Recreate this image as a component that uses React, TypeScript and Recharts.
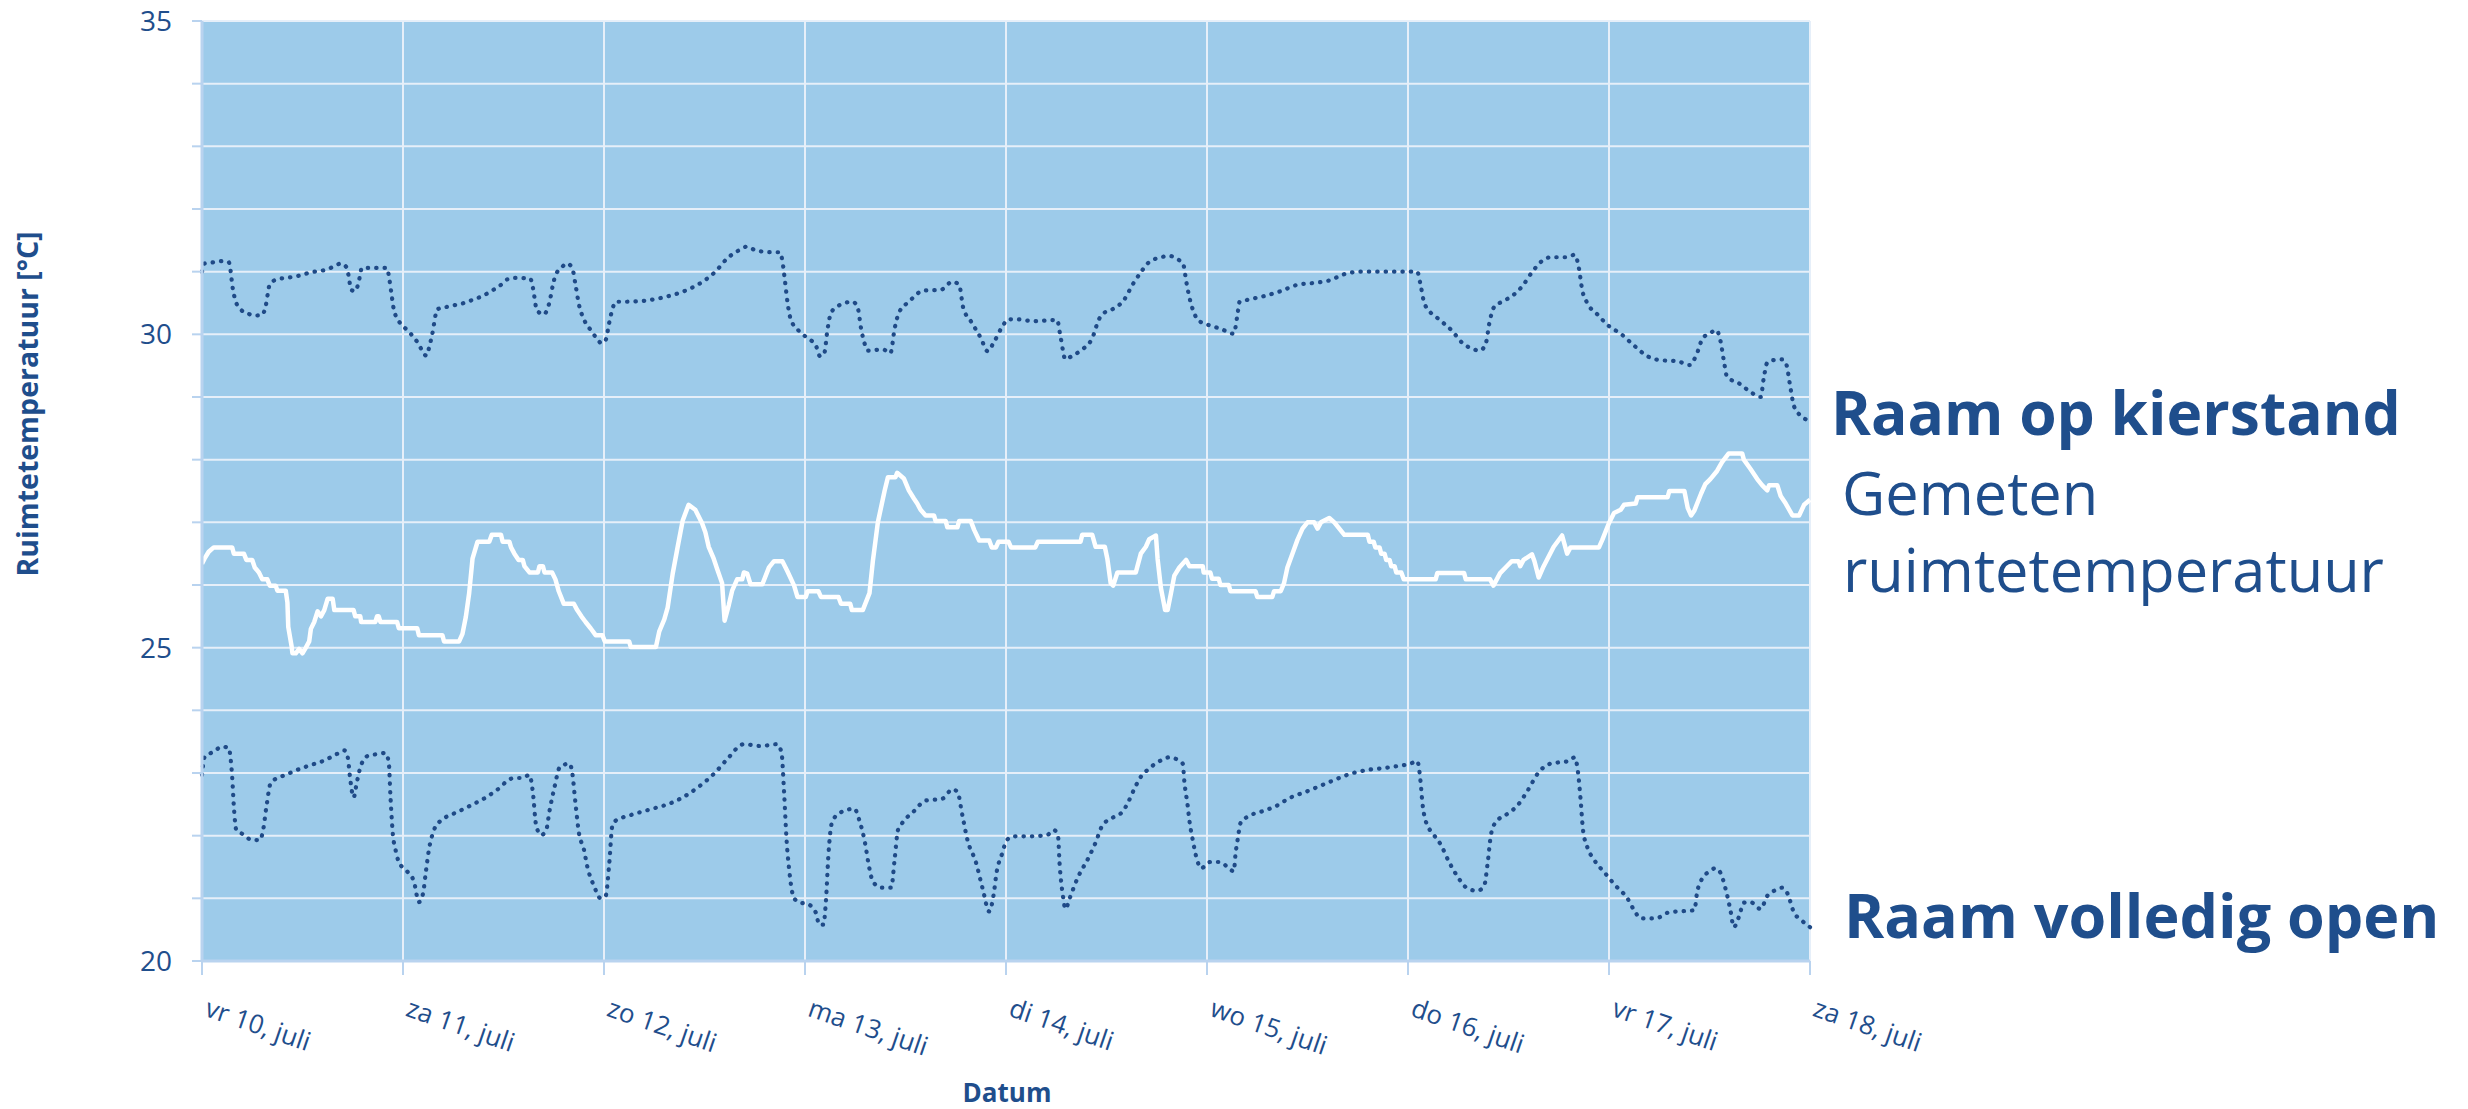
import React from "react";
import { CartesianGrid, Line, LineChart, XAxis, YAxis } from "recharts";

// hours since vr 10 juli 00:00, temperature in °C
const dayLabels = [
  "vr 10, juli",
  "za 11, juli",
  "zo 12, juli",
  "ma 13, juli",
  "di 14, juli",
  "wo 15, juli",
  "do 16, juli",
  "vr 17, juli",
  "za 18, juli",
];
const dayTicks = [0, 24, 48, 72, 96, 120, 144, 168, 192];
const tempTicks = [20, 21, 22, 23, 24, 25, 26, 27, 28, 29, 30, 31, 32, 33, 34, 35];

const kierstand: Array<[number, number]> = [
  [0, 31.0], [0.3, 31.13], [1.4, 31.15], [2.4, 31.17], [3.2, 31.15], [3.4, 31.03], [3.6, 30.8], [4.1, 30.5],
  [4.6, 30.4], [5.5, 30.33], [6.4, 30.3], [7.2, 30.31], [7.6, 30.45], [8.1, 30.8], [9.0, 30.88], [10, 30.9],
  [11, 30.92], [12, 30.95], [13, 30.99], [14, 31.01], [14.8, 31.03], [15.7, 31.08], [16.6, 31.13], [17.2, 31.08],
  [17.5, 30.94], [17.8, 30.71], [18.3, 30.69], [18.7, 30.83], [19.1, 31.06], [20.1, 31.06], [21.1, 31.06],
  [22.1, 31.06], [22.3, 30.94], [22.6, 30.67], [22.9, 30.4], [23.7, 30.17], [24.5, 30.07], [25.7, 29.88],
  [26.8, 29.66], [27.1, 29.78], [27.5, 30.01], [28.1, 30.4], [29.3, 30.44], [30.3, 30.47], [31.3, 30.5],
  [32.3, 30.55], [33.3, 30.6], [34.9, 30.72], [35.7, 30.79], [36.5, 30.88], [37.3, 30.9], [39.2, 30.89],
  [39.5, 30.75], [40, 30.38], [40.8, 30.32], [41.5, 30.52], [41.9, 30.79], [42.2, 30.94], [42.9, 31.06],
  [43.6, 31.13], [44.2, 31.06], [44.6, 30.79], [45, 30.48], [45.6, 30.24], [46.4, 30.07], [47, 29.96],
  [47.7, 29.86], [48.2, 29.91], [48.6, 30.17], [49, 30.4], [49.4, 30.52], [50.4, 30.52], [52.4, 30.53],
  [54.4, 30.57], [55.4, 30.6], [57.2, 30.67], [58.1, 30.72], [59.9, 30.85], [61.3, 31.0], [62.7, 31.21],
  [64.1, 31.34], [65.1, 31.4], [66.1, 31.34], [68, 31.31], [69, 31.31], [69.3, 31.17], [69.6, 30.86],
  [69.9, 30.52], [70.3, 30.24], [71.3, 30.05], [72.3, 29.94], [73.3, 29.82], [73.8, 29.65], [74.3, 29.7],
  [74.7, 30.09], [75.1, 30.34], [75.9, 30.45], [77.7, 30.52], [78.3, 30.42], [78.7, 30.09], [79.1, 29.86],
  [79.5, 29.74], [81.3, 29.76], [82.2, 29.7], [82.7, 30.09], [83.2, 30.34], [84.4, 30.52], [86.2, 30.7],
  [88.2, 30.71], [89.6, 30.84], [90.4, 30.79], [90.9, 30.42], [91.8, 30.21], [93, 29.94], [93.8, 29.73],
  [94.5, 29.86], [95.5, 30.11], [96.3, 30.24], [97.3, 30.24], [99.3, 30.21], [102.1, 30.23], [102.5, 29.97],
  [103.1, 29.6], [103.7, 29.64], [104.9, 29.74], [106.3, 29.94], [107.1, 30.24], [107.7, 30.34], [108.7, 30.4],
  [110.1, 30.55], [111.1, 30.79], [112.1, 30.99], [112.9, 31.13], [114.5, 31.23], [115.5, 31.25], [116.5, 31.2],
  [117.2, 31.1], [117.5, 30.86], [117.9, 30.59], [118.4, 30.36], [119, 30.22], [120.4, 30.14], [121.6, 30.09],
  [123.2, 30.01], [123.6, 30.28], [123.9, 30.52], [124.8, 30.55], [126.8, 30.61], [128.8, 30.69], [130.8, 30.79],
  [132.8, 30.82], [134.6, 30.86], [136.4, 30.96], [138.4, 31.0], [140.4, 31.0], [144.1, 31.0], [145.1, 31.0],
  [145.5, 30.79], [145.9, 30.52], [146.5, 30.38], [147.7, 30.24], [149.3, 30.05], [150.5, 29.86], [151.5, 29.78],
  [152.6, 29.74], [153.3, 29.86], [153.7, 30.17], [154.3, 30.44], [155.4, 30.53], [156.6, 30.63], [157.6, 30.76],
  [158.8, 30.99], [160, 31.17], [161, 31.23], [163, 31.23], [163.9, 31.27], [164.4, 31.06], [164.8, 30.71],
  [165.4, 30.5], [166.6, 30.32], [168, 30.13], [169.4, 30.01], [171, 29.82], [172.6, 29.65], [174, 29.59],
  [176.2, 29.57], [177.6, 29.51], [178.4, 29.66], [179.2, 29.94], [180, 30.01], [180.8, 30.07], [181.3, 29.9],
  [181.7, 29.59], [182.1, 29.32], [183.5, 29.22], [184.9, 29.08], [186.1, 29.0], [186.5, 29.32], [186.9, 29.55],
  [187.7, 29.59], [188.7, 29.6], [189.2, 29.51], [189.6, 29.2], [190.1, 28.85], [190.9, 28.7], [192, 28.62],
];

const gemeten: Array<[number, number]> = [
  [0, 26.34], [0.3, 26.42], [0.8, 26.53], [1.4, 26.6], [3.6, 26.6], [3.8, 26.5], [5, 26.5], [5.3, 26.4],
  [6, 26.4], [6.3, 26.28], [6.8, 26.2], [7.2, 26.09], [7.8, 26.09], [8.1, 25.99], [8.8, 25.99], [9.0, 25.91],
  [10, 25.91], [10.2, 25.72], [10.3, 25.33], [10.7, 25.02], [10.8, 24.91], [11.2, 24.91], [11.6, 24.98],
  [12, 24.91], [12.4, 25.0], [12.8, 25.1], [13, 25.3], [13.4, 25.41], [13.8, 25.58], [14.2, 25.5], [14.6, 25.6],
  [15, 25.78], [15.6, 25.78], [15.8, 25.6], [18.1, 25.6], [18.3, 25.5], [18.9, 25.5], [19.0, 25.41],
  [20.7, 25.41], [20.9, 25.5], [21.1, 25.5], [21.3, 25.41], [23.3, 25.41], [23.5, 25.31], [25.7, 25.31],
  [25.9, 25.2], [28.7, 25.2], [28.9, 25.1], [30.7, 25.1], [31.1, 25.22], [31.5, 25.49], [31.9, 25.87],
  [32.3, 26.42], [32.9, 26.69], [34.3, 26.69], [34.6, 26.8], [35.7, 26.8], [35.9, 26.69], [36.7, 26.69],
  [36.9, 26.6], [37.3, 26.5], [37.8, 26.4], [38.3, 26.4], [38.5, 26.3], [39.1, 26.2], [40.1, 26.2], [40.3, 26.3],
  [40.7, 26.3], [40.9, 26.2], [41.8, 26.2], [42.2, 26.09], [42.6, 25.9], [43.2, 25.7], [44.4, 25.7], [44.8, 25.6],
  [45.3, 25.5], [45.8, 25.41], [46.4, 25.31], [47, 25.2], [47.8, 25.2], [48.1, 25.1], [51, 25.1], [51.2, 25.01],
  [54.2, 25.01], [54.6, 25.26], [55.2, 25.45], [55.6, 25.64], [56.2, 26.18], [56.8, 26.61], [57.4, 27.03],
  [58.1, 27.28], [58.9, 27.2], [59.7, 26.99], [60.1, 26.84], [60.5, 26.61], [61.1, 26.42], [61.5, 26.26],
  [62.1, 26.03], [62.4, 25.43], [62.9, 25.68], [63.3, 25.91], [63.9, 26.09], [64.5, 26.09], [64.7, 26.2],
  [65.1, 26.18], [65.5, 26.01], [66.9, 26.01], [67.7, 26.28], [68.3, 26.38], [69.3, 26.38], [69.9, 26.22],
  [70.7, 25.99], [71.1, 25.81], [72.1, 25.81], [72.3, 25.9], [73.6, 25.9], [73.9, 25.81], [76, 25.81],
  [76.3, 25.7], [77.4, 25.7], [77.6, 25.6], [78.9, 25.6], [79.7, 25.87], [80.1, 26.38], [80.7, 27.0],
  [81.5, 27.5], [81.9, 27.72], [82.8, 27.72], [83, 27.79], [83.8, 27.7], [84.4, 27.51], [85, 27.38], [85.4, 27.3],
  [85.8, 27.2], [86.4, 27.11], [87.4, 27.11], [87.6, 27.02], [88.8, 27.02], [89, 26.92], [90.2, 26.92],
  [90.4, 27.02], [91.8, 27.02], [92.2, 26.88], [92.8, 26.71], [94, 26.71], [94.3, 26.6], [94.8, 26.6],
  [95.1, 26.69], [96.3, 26.69], [96.6, 26.6], [99.5, 26.6], [99.8, 26.69], [104.9, 26.69], [105.1, 26.8],
  [106.3, 26.8], [106.7, 26.61], [107.8, 26.61], [108.1, 26.42], [108.5, 26.03], [108.8, 25.99], [109.3, 26.2],
  [111.5, 26.2], [111.7, 26.3], [112.1, 26.5], [112.7, 26.61], [113.1, 26.73], [113.9, 26.79], [114.1, 26.42],
  [114.5, 25.95], [115, 25.6], [115.3, 25.6], [115.7, 25.87], [116.1, 26.15], [116.7, 26.28], [117.5, 26.4],
  [117.9, 26.3], [119.5, 26.3], [119.6, 26.2], [120.4, 26.2], [120.6, 26.1], [121.4, 26.1], [121.6, 26.0],
  [122.6, 26.0], [122.8, 25.9], [125.8, 25.9], [126, 25.81], [127.8, 25.81], [128, 25.9], [128.8, 25.9],
  [129.2, 26.03], [129.6, 26.28], [130.2, 26.5], [130.8, 26.72], [131.4, 26.9], [132, 27.0], [132.8, 27.0],
  [133.2, 26.9], [133.6, 27.0], [134.6, 27.07], [135.2, 27.0], [135.8, 26.9], [136.4, 26.8], [139.2, 26.8],
  [139.4, 26.69], [139.9, 26.69], [140.1, 26.6], [140.6, 26.6], [140.8, 26.5], [141.2, 26.5], [141.4, 26.4],
  [141.8, 26.4], [142, 26.3], [142.4, 26.3], [142.6, 26.2], [143.2, 26.2], [143.5, 26.09],
  [147.3, 26.09], [147.5, 26.19], [150.7, 26.19], [150.9, 26.09], [153.8, 26.09], [154.2, 25.99], [155, 26.19],
  [155.8, 26.3], [156.4, 26.38], [157.2, 26.38], [157.4, 26.3], [157.8, 26.4], [158.8, 26.49], [159.1, 26.38],
  [159.6, 26.12], [160.2, 26.3], [161.4, 26.61], [162.4, 26.79], [163, 26.5], [163.4, 26.6], [166.8, 26.6],
  [167.2, 26.72], [168, 26.99], [168.6, 27.15], [169.4, 27.2], [169.8, 27.28], [171.2, 27.3], [171.4, 27.4],
  [175, 27.4], [175.2, 27.5], [177, 27.5], [177.4, 27.23], [177.8, 27.11], [178.2, 27.19], [179, 27.46],
  [179.5, 27.61], [180.1, 27.69], [180.9, 27.82], [181.5, 27.96], [182.3, 28.1], [183.9, 28.1], [184.1, 28.0],
  [184.9, 27.85], [185.7, 27.69], [186.3, 27.59], [186.9, 27.51], [187.1, 27.59], [188.1, 27.59], [188.5, 27.42],
  [189.1, 27.3], [189.9, 27.11], [190.7, 27.11], [191.3, 27.28], [192, 27.36],
];

const volledigOpen: Array<[number, number]> = [
  [0, 22.97], [0.3, 23.25], [1.4, 23.34], [2.4, 23.42], [3.2, 23.4], [3.4, 23.25], [3.6, 22.94], [3.8, 22.47],
  [4.1, 22.09], [4.8, 22.03], [6.0, 21.93], [6.9, 21.93], [7.3, 22.09], [7.7, 22.47], [8.2, 22.84], [9.0, 22.92],
  [10, 22.97], [11, 23.03], [12.6, 23.11], [14.6, 23.2], [16.2, 23.31], [17, 23.36], [17.4, 23.25], [17.7, 22.9],
  [18.1, 22.61], [18.5, 22.86], [19, 23.13], [19.9, 23.28], [20.9, 23.3], [21.9, 23.32], [22.3, 23.17],
  [22.5, 22.63], [22.8, 22.01], [23.1, 21.78], [23.5, 21.58], [24.5, 21.43], [25.3, 21.27], [25.9, 20.94],
  [26.4, 21.08], [26.7, 21.39], [27.1, 21.78], [27.7, 22.09], [28.5, 22.24], [29.7, 22.33], [30.5, 22.38],
  [31.3, 22.43], [32.5, 22.51], [33.9, 22.61], [34.9, 22.7], [35.7, 22.78], [36.3, 22.86], [37.3, 22.92],
  [38.3, 22.92], [39.1, 22.97], [39.5, 22.7], [39.9, 22.16], [40.5, 22.01], [41.1, 22.09], [41.5, 22.4],
  [42.1, 22.78], [42.7, 23.09], [43.2, 23.13], [43.9, 23.15], [44.2, 23.01], [44.6, 22.51], [45, 22.05],
  [45.6, 21.78], [46, 21.51], [46.8, 21.2], [47.6, 21.0], [48.2, 21.04], [48.6, 21.51], [49, 22.16],
  [49.4, 22.24], [51, 22.32], [53.8, 22.43], [55.8, 22.51], [57.4, 22.61], [59.1, 22.76], [61.3, 23.01],
  [62.7, 23.22], [64.7, 23.46], [66.7, 23.43], [68.7, 23.46], [69.2, 23.32], [69.5, 22.7], [69.8, 21.93],
  [70.1, 21.47], [70.7, 21.0], [71.5, 20.93], [72.3, 20.91], [73.3, 20.77], [73.7, 20.58], [74.2, 20.58],
  [74.5, 20.96], [74.8, 21.7], [75.2, 22.2], [76.1, 22.36], [77.9, 22.43], [78.5, 22.24], [79.1, 21.93],
  [79.7, 21.47], [80.1, 21.27], [81.1, 21.17], [82.3, 21.17], [82.7, 21.62], [83.1, 22.09], [83.6, 22.2],
  [85, 22.39], [86.4, 22.56], [88.4, 22.59], [89.6, 22.74], [90.2, 22.7], [90.8, 22.32], [91.4, 21.93],
  [92.4, 21.58], [93.2, 21.16], [94, 20.79], [94.5, 21.04], [94.9, 21.43], [95.5, 21.7], [96.1, 21.93],
  [96.9, 21.99], [98.9, 21.99], [100.9, 22.01], [101.7, 22.09], [102.2, 22.01], [102.4, 21.55], [102.8, 21.04],
  [103.1, 20.83], [103.6, 21.0], [104.5, 21.31], [105.9, 21.66], [106.7, 21.89], [107.5, 22.16], [108.9, 22.3],
  [109.9, 22.38], [110.5, 22.51], [111.3, 22.74], [112.1, 22.94], [112.9, 23.05], [114.1, 23.17], [115.5, 23.25],
  [116.5, 23.21], [117.1, 23.15], [117.3, 22.86], [117.7, 22.47], [117.9, 22.24], [118.3, 21.93], [118.8, 21.62],
  [119.3, 21.48], [120.4, 21.58], [121.6, 21.58], [122.6, 21.48], [123.2, 21.43], [123.4, 21.7], [123.7, 21.97],
  [124, 22.2], [124.8, 22.3], [126.4, 22.38], [128.2, 22.47], [130, 22.61], [131.8, 22.7], [133.8, 22.81],
  [135.4, 22.9], [137.2, 22.99], [139.2, 23.05], [141.2, 23.08], [142.7, 23.11], [144.3, 23.15], [145.1, 23.19],
  [145.5, 22.86], [145.7, 22.55], [146.1, 22.24], [147.1, 22.01], [147.9, 21.86], [148.9, 21.58], [149.9, 21.35],
  [151.1, 21.16], [152.3, 21.12], [153.1, 21.2], [153.5, 21.55], [153.9, 22.01], [154.4, 22.2], [156, 22.36],
  [157, 22.47], [158.2, 22.7], [159.6, 23.01], [160.8, 23.14], [162, 23.17], [163.2, 23.19], [163.9, 23.25],
  [164.3, 23.01], [164.6, 22.59], [164.9, 22.09], [165.4, 21.82], [166.2, 21.62], [167.6, 21.39], [168.8, 21.2],
  [170.2, 21.0], [171, 20.81], [171.8, 20.68], [173.6, 20.68], [175, 20.77], [177.2, 20.8], [178.2, 20.81],
  [178.5, 21.08], [179.1, 21.31], [179.9, 21.42], [180.7, 21.48], [181.3, 21.41], [181.9, 21.16], [182.5, 20.81],
  [182.9, 20.54], [183.5, 20.7], [184.1, 20.93], [184.9, 20.94], [186.1, 20.83], [186.9, 21.04], [187.7, 21.12],
  [188.7, 21.17], [189.3, 21.08], [190.1, 20.77], [190.9, 20.66], [192, 20.54],
];

const toRows = (pts: Array<[number, number]>) => pts.map(([t, v]) => ({ t, v }));

const navy = "#1f4e8c";
const font = "'Open Sans', sans-serif";

function DayTick(props: any) {
  const { x, y, payload } = props;
  const label = dayLabels[Math.round(payload.value / 24)];
  return (
    <g transform={`translate(${x},${y})`}>
      <text transform="rotate(19)" x={14} y={36} fill={navy} fontSize={26} fontFamily={font} textAnchor="start">
        {label}
      </text>
    </g>
  );
}

export default function App() {
  return (
    <div style={{ position: "absolute", left: 0, top: 0, width: 2468, height: 1109, background: "#fff" }}>
      <LineChart width={2468} height={1109} margin={{ top: 21, right: 658, bottom: 48, left: 82 }}>
        <CartesianGrid fill="#9dcbea" stroke="#e6eff9" strokeWidth={2} />
        <XAxis
          type="number"
          dataKey="t"
          domain={[0, 192]}
          ticks={dayTicks}
          interval={0}
          height={100}
          tickSize={14}
          tick={<DayTick />}
          axisLine={{ stroke: "#b9d3ef", strokeWidth: 3 }}
          tickLine={{ stroke: "#b9d3ef", strokeWidth: 2 }}
          allowDuplicatedCategory={false}
        />
        <YAxis
          type="number"
          domain={[20, 35]}
          ticks={tempTicks}
          interval={0}
          width={120}
          tickSize={10}
          tickMargin={20}
          tickFormatter={(v: number) => (v % 5 === 0 ? String(v) : "")}
          tick={{ fill: navy, fontSize: 28, fontFamily: font }}
          axisLine={{ stroke: "#b9d3ef", strokeWidth: 3 }}
          tickLine={{ stroke: "#b9d3ef", strokeWidth: 2 }}
        />
        <Line
          data={toRows(kierstand)}
          dataKey="v"
          type="monotone"
          stroke="#1f4a87"
          strokeWidth={4.2}
          strokeDasharray="0.4 8"
          strokeLinecap="round"
          dot={false}
          activeDot={false}
          isAnimationActive={false}
        />
        <Line
          data={toRows(volledigOpen)}
          dataKey="v"
          type="monotone"
          stroke="#1f4a87"
          strokeWidth={4.2}
          strokeDasharray="0.4 8"
          strokeLinecap="round"
          dot={false}
          activeDot={false}
          isAnimationActive={false}
        />
        <Line
          data={toRows(gemeten)}
          dataKey="v"
          type="linear"
          stroke="#ffffff"
          strokeWidth={4.5}
          strokeLinejoin="round"
          dot={false}
          activeDot={false}
          isAnimationActive={false}
        />
      </LineChart>
      <svg width={2468} height={1109} style={{ position: "absolute", left: 0, top: 0, pointerEvents: "none" }}>
        <text
          transform="translate(38,404) rotate(-90)"
          textAnchor="middle"
          fill={navy}
          fontSize={28.5}
          fontWeight={700}
          fontFamily={font}
        >
          Ruimtetemperatuur [°C]
        </text>
        <text x={1007} y={1102} textAnchor="middle" fill={navy} fontSize={26} fontWeight={700} fontFamily={font}>
          Datum
        </text>
        <text x={1831} y={435} fill={navy} fontSize={60.5} fontWeight={700} fontFamily={font}>
          Raam op kierstand
        </text>
        <text x={1842} y={515} fill={navy} fontSize={59.5} fontFamily={font}>
          Gemeten
        </text>
        <text x={1843} y={592} fill={navy} fontSize={59.5} fontFamily={font}>
          ruimtetemperatuur
        </text>
        <text x={1844} y={938} fill={navy} fontSize={61} fontWeight={700} fontFamily={font}>
          Raam volledig open
        </text>
      </svg>
    </div>
  );
}
